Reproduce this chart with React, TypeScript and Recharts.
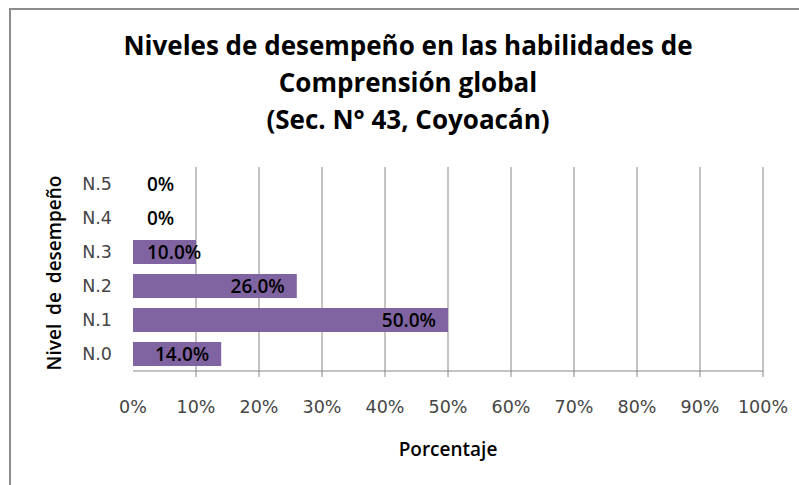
import { BarChart, Bar, XAxis, YAxis, CartesianGrid, LabelList } from "recharts";

const levels = ["N.5", "N.4", "N.3", "N.2", "N.1", "N.0"];
const shares = [0, 0, 0.1, 0.26, 0.5, 0.14];
const xTicks = [0, 0.1, 0.2, 0.3, 0.4, 0.5, 0.6, 0.7, 0.8, 0.9, 1];
const titleLines = [
  "Niveles de desempeño en las habilidades de",
  "Comprensión global",
  "(Sec. N° 43, Coyoacán)",
];

const data = levels.map((name, i) => ({ name, value: shares[i] }));

const FONT = "'Open Sans', 'Noto Sans', sans-serif";
const TICK_FONT = "'DejaVu Sans', sans-serif";
const GRID = "#868686";
const TICK_SIZE = 6;
const TICK_MARGIN = 30;

function fmtLabel(v: number): string {
  return v === 0 ? "0%" : (v * 100).toFixed(1) + "%";
}

// x tick: percent text plus a small tick mark (none at 0, like the original)
const XTick = (props: any) => {
  const { x, y, payload } = props;
  const axisY = y - TICK_SIZE - TICK_MARGIN;
  return (
    <g>
      {payload.value > 0 && <line x1={x} x2={x} y1={axisY} y2={axisY + TICK_SIZE} stroke={GRID} />}
      <text x={x} y={y} dy="0.35em" textAnchor="middle" fill="#454545" fontSize={17.5} fontFamily={TICK_FONT}>
        {Math.round(payload.value * 100) + "%"}
      </text>
    </g>
  );
};

// label sits inside the bar end, or just past the base when it does not fit
const BarLabel = (props: any) => {
  const { x, y, width, height, value } = props;
  const text = fmtLabel(Number(value));
  const approxW = text.length * 11.2;
  const w = Number(width) || 0;
  const fits = w - 24 >= approxW;
  return (
    <text
      x={fits ? x + w - 12 : x + 14}
      y={y + height / 2}
      dy="0.35em"
      textAnchor={fits ? "end" : "start"}
      fill="#000"
      fontSize={19}
      fontWeight={600}
      fontFamily={FONT}
    >
      {text}
    </text>
  );
};

export default function App() {
  return (
    <div style={{ position: "absolute", left: 0, top: 0, width: 799, height: 485, overflow: "hidden", background: "#fff" }}>
      <div style={{ position: "absolute", left: 9, top: 8, width: 820, height: 520, border: "2px solid #8c8c8c" }} />
      <div style={{ position: "absolute", left: 0, top: 27, width: 816, textAlign: "center", fontFamily: FONT, fontWeight: 700, fontSize: 26, lineHeight: "37px", color: "#000" }}>
        {titleLines.map((t, i) => (
          <div key={i}>{t}</div>
        ))}
      </div>
      <div style={{ position: "absolute", left: 0, top: 0 }}>
        <BarChart
          width={799}
          height={485}
          data={data}
          layout="vertical"
          margin={{ top: 167, right: 36, bottom: 0, left: 0 }}
          barSize={24}
        >
          <CartesianGrid
            horizontal={false}
            stroke={GRID}
            verticalCoordinatesGenerator={({ offset }: any) =>
              xTicks.slice(1).map(t => offset.left + t * offset.width)
            }
          />
          <XAxis
            type="number"
            domain={[0, 1]}
            ticks={xTicks}
            interval={0}
            height={114}
            axisLine={{ stroke: GRID }}
            tickLine={false}
            tickSize={TICK_SIZE}
            tickMargin={TICK_MARGIN}
            tick={<XTick />}
          />
          <YAxis
            type="category"
            dataKey="name"
            width={133}
            axisLine={false}
            tickLine={false}
            tickSize={0}
            tickMargin={21}
            tick={{ fill: "#454545", fontSize: 17.5, fontFamily: TICK_FONT }}
          />
          <Bar
            dataKey="value"
            fill="#8064A2"
            minPointSize={(v: number) => (v === 0 ? 0.01 : 0)}
            isAnimationActive={false}
          >
            <LabelList dataKey="value" content={<BarLabel />} />
          </Bar>
        </BarChart>
      </div>
      <div style={{ position: "absolute", left: 0, top: 436, width: 896, textAlign: "center", fontFamily: FONT, fontWeight: 600, fontSize: 19, color: "#000" }}>
        Porcentaje
      </div>
      <div
        style={{
          position: "absolute",
          left: 54,
          top: 273,
          transform: "translate(-50%, -50%) rotate(-90deg)",
          whiteSpace: "nowrap",
          fontFamily: FONT,
          fontWeight: 600,
          fontSize: 19,
          wordSpacing: 4,
          color: "#000",
        }}
      >
        Nivel de desempeño
      </div>
    </div>
  );
}
